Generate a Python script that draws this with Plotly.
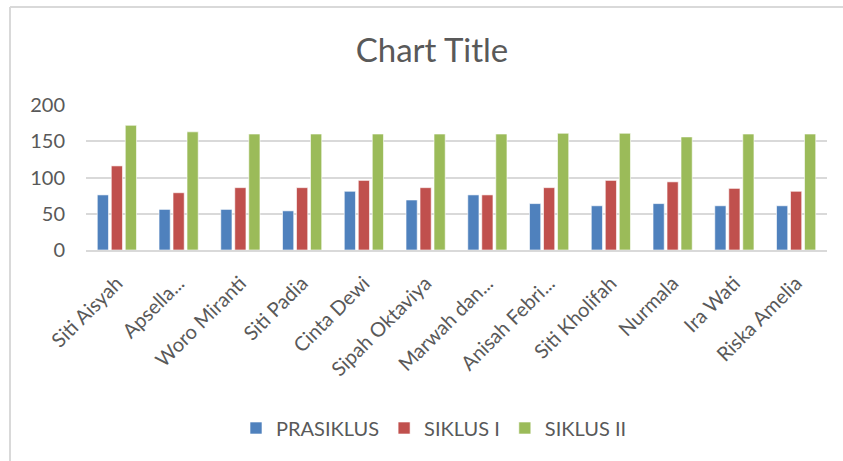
import plotly.graph_objects as go

categories = ["Siti Aisyah", "Apsella...", "Woro Miranti", "Siti Padia", "Cinta Dewi",
              "Sipah Oktaviya", "Marwah dan...", "Anisah Febri...", "Siti Kholifah",
              "Nurmala", "Ira Wati", "Riska Amelia"]
prasiklus = [76, 56, 56, 54, 81, 69, 76, 64, 61, 64, 61, 61]
siklus1 = [116, 79, 86, 86, 96, 86, 76, 86, 96, 94, 85, 81]
siklus2 = [172, 163, 160, 160, 160, 160, 160, 161, 161, 156, 160, 160]
y_ticks = [0, 50, 100, 150, 200]

FONT = "Lato"
GREY = "#595959"

fig = go.Figure()
for name, vals, col in [("PRASIKLUS", prasiklus, "#4F81BD"),
                        ("SIKLUS I", siklus1, "#C0504D"),
                        ("SIKLUS II", siklus2, "#9BBB59")]:
    fig.add_trace(go.Bar(x=categories, y=vals, name=name,
                         marker=dict(color=col, line=dict(color="rgba(255,255,255,0.6)", width=1))))

W, H = 843, 461
L, R, T, B = 86, 16, 105, 211
pw, ph = W - L - R, H - T - B

def px2x(px):
    return (px - L) / pw

def py2y(py):
    return (H - B - py) / ph

fig.update_layout(
    width=W, height=H,
    margin=dict(l=L, r=R, t=T, b=B, autoexpand=False),
    paper_bgcolor="white", plot_bgcolor="white",
    barmode="group", bargap=0.32, bargroupgap=0.2,
    font=dict(family=FONT, color=GREY),
    title=dict(text="Chart Title", x=432 / W, xanchor="center",
               y=1 - 50 / H, yanchor="middle",
               font=dict(size=33, color=GREY, family=FONT)),
    showlegend=True,
    legend=dict(orientation="h", x=px2x(434), xanchor="center", y=py2y(428), yanchor="middle",
                font=dict(size=20, color=GREY, family=FONT), itemwidth=30,
                traceorder="normal"),
    yaxis=dict(range=[0, 200], tickvals=y_ticks, showgrid=True, gridcolor="#D9D9D9", gridwidth=1.5,
               zeroline=False, showline=False, ticks="", tickfont=dict(size=20, color=GREY),
               ticklabelstandoff=20),
    xaxis=dict(showline=True, linecolor="#D9D9D9", linewidth=1.5, ticks="", tickangle=-45,
               tickfont=dict(size=20, color=GREY), showgrid=False, ticklabelstandoff=12),
    shapes=[
        dict(type="line", xref="paper", yref="paper", x0=px2x(10), x1=px2x(W + 5),
             y0=py2y(7), y1=py2y(7), line=dict(color="#D9D9D9", width=2)),
        dict(type="line", xref="paper", yref="paper", x0=px2x(10), x1=px2x(10),
             y0=py2y(7), y1=py2y(H + 5), line=dict(color="#D9D9D9", width=2)),
    ],
)

fig.write_html("out.html", config={"displayModeBar": False},
               post_script="document.body.style.margin='0';")
